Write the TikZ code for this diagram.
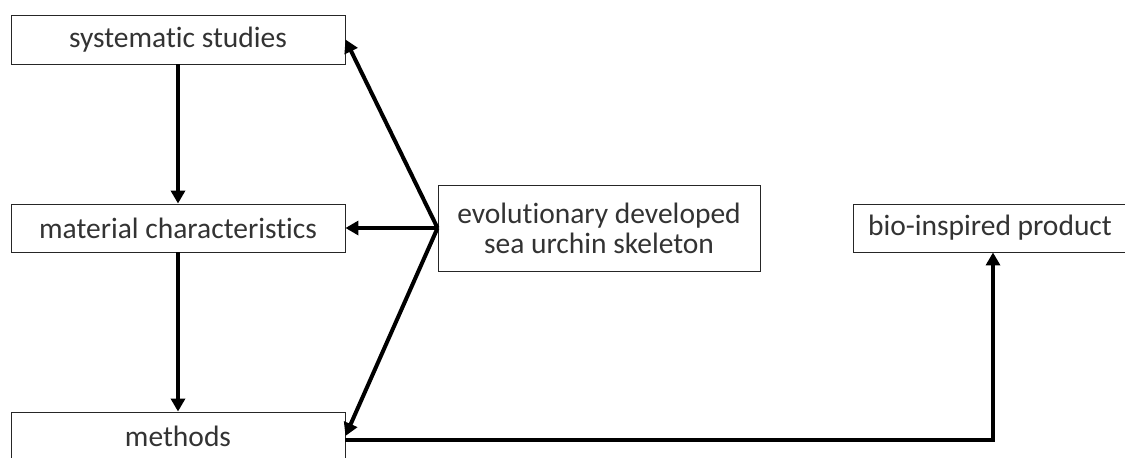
\documentclass[tikz,border=0pt]{standalone}
\usepackage{fontspec}
\setmainfont[Ligatures=NoCommon]{Carlito}
\usetikzlibrary{arrows.meta}
\begin{document}
\begin{tikzpicture}[x=1pt,y=-1pt,
  box/.style={draw=black!85,line width=0.9pt,fill=white,inner sep=0pt,
    text=black!80,font=\fontsize{29.5}{30}\selectfont,align=center},
  conn/.style={line width=4pt,-{Triangle[length=13pt,width=14pt]}}]
\clip (0,0) rectangle (1125,458);
\fill[white] (0,0) rectangle (1125,458);
\node[box,minimum width=334pt,minimum height=49pt] (sys) at (178,39.5) {systematic studies};
\node[box,minimum width=334pt,minimum height=48pt] (mat) at (178,228) {material characteristics};
\node[box,minimum width=334pt,minimum height=48pt] (meth) at (178,436) {methods};
\node[box,minimum width=322pt,minimum height=86pt] (evo) at (599,228) {evolutionary developed\\sea urchin skeleton};
\node[box,minimum width=274pt,minimum height=48pt] (bio) at (990,228) {bio-inspired product};
\draw[conn] (sys.south) -- (mat.north);
\draw[conn] (mat.south) -- (meth.north);
\draw[conn] (evo.west) -- (sys.east);
\draw[conn] (evo.west) -- (mat.east);
\draw[conn] (evo.west) -- (meth.east);
\draw[conn] ([yshift=-4pt]meth.east) -| ([xshift=3pt]bio.south);
\end{tikzpicture}
\end{document}
